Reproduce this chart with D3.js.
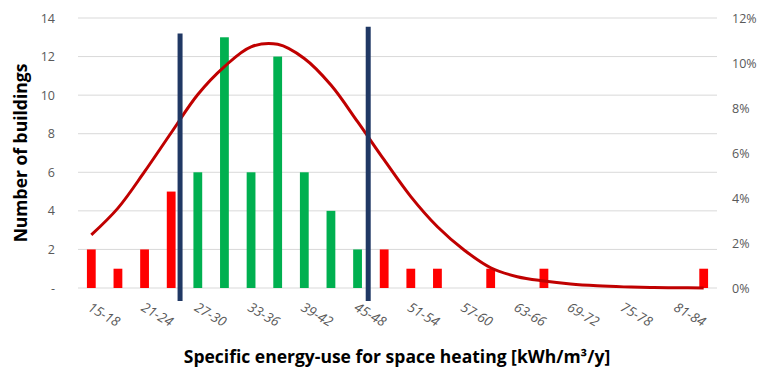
<!DOCTYPE html>
<html>
<head>
<meta charset="utf-8">
<title>Space heating distribution</title>
<script src="https://d3js.org/d3.v7.min.js"></script>
<style>
  body { margin: 0; background: #fff; }
  text { font-family: "Open Sans", "Noto Sans", sans-serif; }
</style>
</head>
<body>
<script>
// bins of 3 kWh/m3/y
var categories = ["15-18","18-21","21-24","24-27","27-30","30-33","33-36","36-39","39-42","42-45","45-48","48-51",
                  "51-54","54-57","57-60","60-63","63-66","66-69","69-72","72-75","75-78","78-81","81-84","84-87"];
var counts = [2, 1, 2, 5, 6, 13, 6, 12, 6, 4, 2, 2, 1, 1, 0, 1, 0, 1, 0, 0, 0, 0, 0, 1];
// bins inside the two markers are green
var inside = [false,false,false,false,true,true,true,true,true,true,true,false,
              false,false,false,false,false,false,false,false,false,false,false,false];
// fitted distribution (percent), read at each bin centre
var curvePct = [2.36, 3.55, 5.17, 6.9, 8.6, 9.84, 10.72, 10.83, 10.2, 9.02, 7.39, 5.69,
                4.06, 2.72, 1.69, 0.9, 0.5, 0.31, 0.18, 0.1, 0.05, 0.02, 0.01, 0.0];
// vertical markers, in kWh/m3/y, with their top (in buildings)
var markers = [26.5, 47.7];
var markerTops = [13.2, 13.55];
var leftTicks = [0, 2, 4, 6, 8, 10, 12, 14];
var rightTicks = [0, 2, 4, 6, 8, 10, 12];

var W = 761, H = 372;
var plotL = 78, plotR = 717, plotT = 18, plotB = 288;

var svg = d3.select("body").append("svg")
    .attr("width", W)
    .attr("height", H);

var x = d3.scaleBand().domain(categories).range([plotL, plotR]).paddingInner(0.67).paddingOuter(0.335);
var xv = d3.scaleLinear().domain([15, 87]).range([plotL, plotR]);
var y = d3.scaleLinear().domain([0, 14]).range([plotB, plotT]);
var y2 = d3.scaleLinear().domain([0, 12]).range([plotB, plotT]);

// gridlines
svg.append("g").selectAll("line")
    .data(leftTicks)
    .enter().append("line")
    .attr("x1", plotL).attr("x2", plotR)
    .attr("y1", function(d) { return y(d); })
    .attr("y2", function(d) { return y(d); })
    .attr("stroke", "#d9d9d9")
    .attr("stroke-width", 1);

// left axis
var yAxis = svg.append("g")
    .attr("transform", "translate(" + (plotL - 20) + ",0)")
    .call(d3.axisLeft(y).tickValues(leftTicks).tickSize(0).tickFormat(function(d) { return d === 0 ? "-" : d; }));
yAxis.select(".domain").remove();
yAxis.selectAll("text").attr("fill", "#595959").style("font-size", "12.5px");

// right axis
var y2Axis = svg.append("g")
    .attr("transform", "translate(" + (plotR + 12) + ",0)")
    .call(d3.axisRight(y2).tickValues(rightTicks).tickSize(0).tickFormat(function(d) { return d + "%"; }));
y2Axis.select(".domain").remove();
y2Axis.selectAll("text").attr("fill", "#595959").style("font-size", "12.5px");

// bars
svg.append("g").selectAll("rect")
    .data(counts)
    .enter().append("rect")
    .attr("x", function(d, i) { return x(categories[i]); })
    .attr("y", function(d) { return y(d); })
    .attr("width", x.bandwidth())
    .attr("height", function(d) { return y(0) - y(d); })
    .attr("fill", function(d, i) { return inside[i] ? "#00b050" : "#ff0000"; });

// fitted curve
var line = d3.line()
    .x(function(d, i) { return x(categories[i]) + x.bandwidth() / 2; })
    .y(function(d) { return y2(d); })
    .curve(d3.curveCatmullRom.alpha(0.5));
svg.append("path")
    .datum(curvePct)
    .attr("d", line)
    .attr("fill", "none")
    .attr("stroke", "#c00000")
    .attr("stroke-width", 3);

// markers
svg.append("g").selectAll("line")
    .data(markers)
    .enter().append("line")
    .attr("x1", function(d) { return xv(d); })
    .attr("x2", function(d) { return xv(d); })
    .attr("y1", function(d, i) { return y(markerTops[i]); })
    .attr("y2", y(-0.68))
    .attr("stroke", "#203864")
    .attr("stroke-width", 5);

// x labels (every other bin)
svg.append("g").selectAll("text")
    .data(categories.filter(function(d, i) { return i % 2 === 0; }))
    .enter().append("text")
    .attr("transform", function(d) {
        return "translate(" + (x(d) + x.bandwidth() / 2 - 2) + "," + 306 + ") rotate(30)";
    })
    .attr("dy", "0.35em")
    .attr("fill", "#595959")
    .style("font-size", "13.5px")
    .style("font-style", "italic")
    .text(function(d) { return d; });

// axis titles
svg.append("text")
    .attr("transform", "translate(27," + ((plotT + plotB) / 2 + 0) + ") rotate(-90)")
    .attr("text-anchor", "middle")
    .style("font-size", "17.5px")
    .style("font-weight", "bold")
    .attr("fill", "#000")
    .text("Number of buildings");

svg.append("text")
    .attr("x", 397)
    .attr("y", 363)
    .attr("text-anchor", "middle")
    .style("font-size", "17.5px")
    .style("font-weight", "bold")
    .attr("fill", "#000")
    .text("Specific energy-use for space heating [kWh/m³/y]");
</script>
</body>
</html>
